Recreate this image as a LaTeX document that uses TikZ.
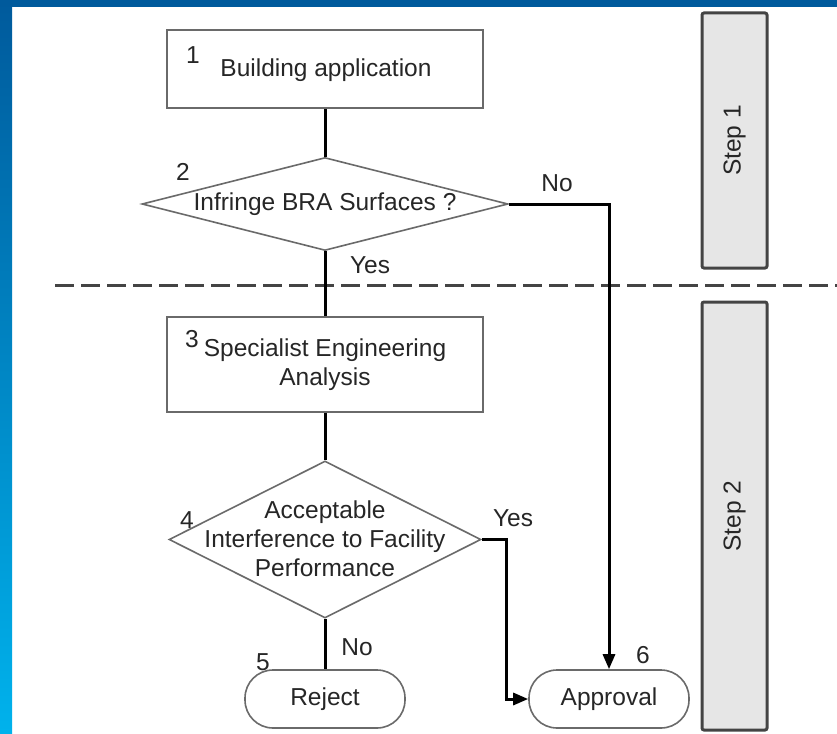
\documentclass[tikz,border=0pt]{standalone}
\usepackage{fontspec}
\setmainfont{Liberation Sans}
\usetikzlibrary{arrows.meta,shapes.geometric}
\definecolor{frametop}{HTML}{005A9C}
\definecolor{framemid}{HTML}{0078C6}
\definecolor{framebot}{HTML}{00B2EC}
\definecolor{boxline}{HTML}{6A6A6A}
\definecolor{stepfill}{HTML}{E6E6E6}
\definecolor{stepline}{HTML}{444444}
\definecolor{ink}{HTML}{262626}

\begin{document}
\begin{tikzpicture}[x=1pt,y=-1pt,
    every node/.style={font=\fontsize{24.5}{29}\selectfont,text=ink},
    procbox/.style={draw=boxline,line width=1.6pt,fill=white,minimum width=316pt,inner sep=0pt},
    decide/.style={draw=boxline,line width=1.6pt,fill=white,diamond,inner sep=0pt},
    endbox/.style={draw=boxline,line width=1.6pt,fill=white,rounded corners=28pt,
        minimum width=160pt,minimum height=58pt,inner sep=0pt},
    stepbox/.style={draw=stepline,line width=3pt,fill=stepfill,rounded corners=2pt,
        minimum height=65pt,inner sep=0pt,rotate=90},
    link/.style={line width=3pt,black},
    arr/.style={-{Triangle[length=15pt,width=12pt]}},
    dashline/.style={line width=3pt,draw=stepline,dash pattern=on 19pt off 7pt}]
        \useasboundingbox (0,0) rectangle (837,733);
        \fill[white] (0,0) rectangle (837,733);
        \shade[top color=frametop,middle color=framemid,bottom color=framebot] (0,0) rectangle (12,733);
        \fill[frametop] (0,0) rectangle (837,7);

        \node[procbox,minimum height=78pt] (b1) at (325,69) {};
        \node (b1t) at (326,70) {Building application};
        \node (n1) at (193,55) {1};

        \node[decide,minimum width=366pt,minimum height=93pt] (q2) at (325,204) {};
        \node (q2t) at (325,204) {Infringe BRA Surfaces ?};
        \node (n2) at (183,172) {2};

        \node[procbox,minimum height=95pt] (b3) at (325,364.5) {};
        \node[align=center] (b3t) at (325,365) {Specialist Engineering\\Analysis};
        \node (n3) at (192,339) {3};

        \node[decide,minimum width=312pt,minimum height=157pt] (q4) at (325,539.5) {};
        \node[align=center] (q4t) at (325,539) {Acceptable\\Interference to Facility\\Performance};
        \node (n4) at (187,520) {4};

        \node[endbox] (t5) at (325,699) {Reject};
        \node (n5) at (263,662) {5};
        \node[endbox] (t6) at (609,699) {Approval};
        \node (n6) at (643,655) {6};

        \node[stepbox,minimum width=255pt] (s1) at (734.5,140.5) {Step 1};
        \node[stepbox,minimum width=428pt] (s2) at (734.5,516) {Step 2};

        \coordinate (dl) at (55,285);
        \coordinate (dr) at (837,285);
        \draw[dashline] (dl) -- (dr);

        \coordinate (c4) at (506,539.5);
        \draw[link] (b1) -- (q2);
        \draw[link] (q2) -- (b3);
        \draw[link] (b3) -- (q4);
        \draw[link] (q4) -- (t5);
        \draw[link,arr] (q2.east) -| (t6);
        \draw[link,arr] (q4.east) -- (c4) |- (t6.west);

        \node (no2) at (557,183) {No};
        \node (yes2) at (370,265) {Yes};
        \node (yes4) at (513,518) {Yes};
        \node (no4) at (357,647) {No};
    \end{tikzpicture}
\end{document}
